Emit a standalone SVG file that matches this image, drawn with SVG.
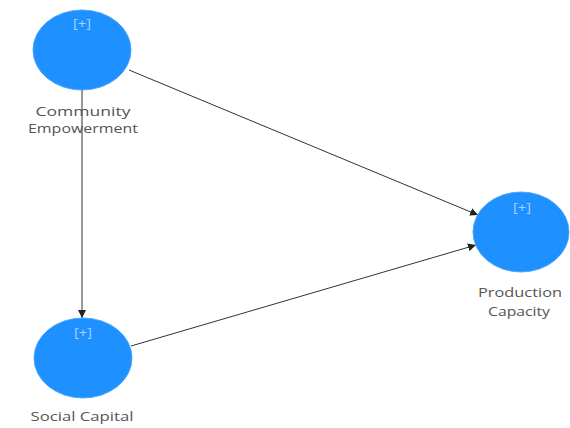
<svg xmlns="http://www.w3.org/2000/svg" width="570" height="428" viewBox="0 0 570 428">
<style>
.node{fill:#1e90ff;stroke:#4aa8ff;stroke-width:1}
.lbl{font-family:"Open Sans","Noto Sans",sans-serif;font-size:13px;fill:#555;text-anchor:middle}
.plus{font-family:"Open Sans","Noto Sans",sans-serif;font-size:12px;fill:#a8d4ff;text-anchor:middle}
.edge{stroke:#333;stroke-width:1;fill:none;marker-end:url(#ah)}
</style>
<defs>
<marker id="ah" viewBox="0 0 10 10" refX="10" refY="5" markerWidth="8" markerHeight="8" orient="auto" markerUnits="userSpaceOnUse">
<path d="M0,0 L10,5 L0,10 z" fill="#222"/>
</marker>
</defs>
<rect width="570" height="428" fill="#fff"/>
<g id="connectors">
<line class="edge" x1="82" y1="90" x2="82" y2="318"/>
<line class="edge" x1="129" y1="70" x2="478" y2="215"/>
<line class="edge" x1="131" y1="346" x2="476" y2="245"/>
</g>
<g id="community-empowerment">
<ellipse class="node" cx="82" cy="50" rx="49" ry="40"/>
<text class="plus" x="82" y="28" textLength="18" lengthAdjust="spacingAndGlyphs">[+]</text>
<text class="lbl" x="83" y="116" textLength="95" lengthAdjust="spacingAndGlyphs">Community</text>
<text class="lbl" x="83" y="133" textLength="110" lengthAdjust="spacingAndGlyphs">Empowerment</text>
</g>
<g id="social-capital">
<ellipse class="node" cx="83" cy="358" rx="49" ry="40"/>
<text class="plus" x="83" y="337" textLength="18" lengthAdjust="spacingAndGlyphs">[+]</text>
<text class="lbl" x="82" y="421" textLength="103" lengthAdjust="spacingAndGlyphs">Social Capital</text>
</g>
<g id="production-capacity">
<ellipse class="node" cx="521" cy="232" rx="48" ry="40"/>
<text class="plus" x="522" y="212" textLength="18" lengthAdjust="spacingAndGlyphs">[+]</text>
<text class="lbl" x="520" y="297" textLength="84" lengthAdjust="spacingAndGlyphs">Production</text>
<text class="lbl" x="519" y="316" textLength="62" lengthAdjust="spacingAndGlyphs">Capacity</text>
</g>
</svg>
